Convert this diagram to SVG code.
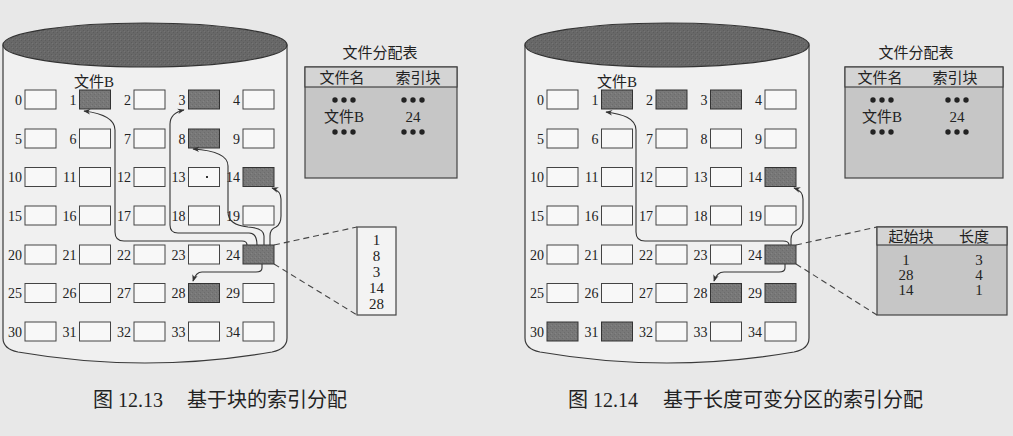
<svg xmlns="http://www.w3.org/2000/svg" width="1013" height="436" viewBox="0 0 1013 436">
<defs>
<style>
.bg{fill:#e8e8e8}
.cyl{fill:#f0f0f0;stroke:#3a3a3a;stroke-width:1.2}
.lid{fill:url(#grainDark);stroke:#333;stroke-width:1.2}
.blk{fill:#f8f8f8;stroke:#444;stroke-width:1}
.on{fill:url(#grain);stroke:#333;stroke-width:1}
.num{font-family:"Liberation Serif","Noto Sans CJK SC",serif;font-size:14px;fill:#222;text-anchor:end}
.lbl{font-family:"Liberation Serif","Noto Sans CJK SC",serif;font-size:15px;fill:#222}
.mid{text-anchor:middle}
.tbl{fill:#c6c6c6;stroke:#444;stroke-width:1.2}
.hdr{fill:#d4d4d4;stroke:#444;stroke-width:1.2}
.idx{fill:#f3f3f3;stroke:#444;stroke-width:1.2}
.link{fill:none;stroke:#333;stroke-width:1.1}
.dash{fill:none;stroke:#444;stroke-width:1.1;stroke-dasharray:6 4}
.cap{font-family:"Liberation Serif","Noto Sans CJK SC",serif;font-size:20px;fill:#222}
.dot{fill:#222}
</style>
<pattern id="grain" width="4" height="4" patternUnits="userSpaceOnUse">
<rect width="4" height="4" fill="#787878"/>
<rect x="0" y="0" width="1" height="1" fill="#6c6c6c"/>
<rect x="2" y="2" width="1" height="1" fill="#6c6c6c"/>
<rect x="3" y="1" width="1" height="1" fill="#848484"/>
</pattern>
<pattern id="grainDark" width="4" height="4" patternUnits="userSpaceOnUse">
<rect width="4" height="4" fill="#686868"/>
<rect x="1" y="0" width="1" height="1" fill="#5c5c5c"/>
<rect x="3" y="2" width="1" height="1" fill="#5c5c5c"/>
<rect x="0" y="3" width="1" height="1" fill="#747474"/>
</pattern>
<marker id="ah" viewBox="0 0 10 10" refX="9" refY="5" markerWidth="7" markerHeight="7" orient="auto" markerUnits="userSpaceOnUse">
<path d="M0,1 L10,5 L0,9 L3,5 Z" fill="#333"/>
</marker>
</defs>

<rect class="bg" x="0" y="0" width="1013" height="436"/>

<!-- left disk: block-based index allocation -->
<g id="disk-left">
<path class="cyl" d="M3,45 L3,338 Q3,349 18,352 Q145,374 272,352 Q287,349 287,338 L287,45 Z"/>
<ellipse class="lid" cx="145" cy="45" rx="142" ry="22"/>
</g>

<g id="L-blocks">
<g id="L0"><rect class="blk" x="25" y="90" width="31" height="19"/><text class="num" x="22" y="104.5">0</text></g>
<g id="L1"><rect class="on" x="79.5" y="90" width="31" height="19"/><text class="num" x="76.5" y="104.5">1</text></g>
<g id="L2"><rect class="blk" x="134" y="90" width="31" height="19"/><text class="num" x="131" y="104.5">2</text></g>
<g id="L3"><rect class="on" x="188.5" y="90" width="31" height="19"/><text class="num" x="185.5" y="104.5">3</text></g>
<g id="L4"><rect class="blk" x="243" y="90" width="31" height="19"/><text class="num" x="240" y="104.5">4</text></g>

<g id="L5"><rect class="blk" x="25" y="129" width="31" height="19"/><text class="num" x="22" y="143.5">5</text></g>
<g id="L6"><rect class="blk" x="79.5" y="129" width="31" height="19"/><text class="num" x="76.5" y="143.5">6</text></g>
<g id="L7"><rect class="blk" x="134" y="129" width="31" height="19"/><text class="num" x="131" y="143.5">7</text></g>
<g id="L8"><rect class="on" x="188.5" y="129" width="31" height="19"/><text class="num" x="185.5" y="143.5">8</text></g>
<g id="L9"><rect class="blk" x="243" y="129" width="31" height="19"/><text class="num" x="240" y="143.5">9</text></g>

<g id="L10"><rect class="blk" x="25" y="167.5" width="31" height="19"/><text class="num" x="22" y="182">10</text></g>
<g id="L11"><rect class="blk" x="79.5" y="167.5" width="31" height="19"/><text class="num" x="76.5" y="182">11</text></g>
<g id="L12"><rect class="blk" x="134" y="167.5" width="31" height="19"/><text class="num" x="131" y="182">12</text></g>
<g id="L13"><rect class="blk" x="188.5" y="167.5" width="31" height="19"/><rect x="206" y="176" width="2" height="2" fill="#333"/><text class="num" x="185.5" y="182">13</text></g>
<g id="L14"><rect class="on" x="243" y="167.5" width="31" height="19"/><text class="num" x="240" y="182">14</text></g>

<g id="L15"><rect class="blk" x="25" y="206" width="31" height="19"/><text class="num" x="22" y="220.5">15</text></g>
<g id="L16"><rect class="blk" x="79.5" y="206" width="31" height="19"/><text class="num" x="76.5" y="220.5">16</text></g>
<g id="L17"><rect class="blk" x="134" y="206" width="31" height="19"/><text class="num" x="131" y="220.5">17</text></g>
<g id="L18"><rect class="blk" x="188.5" y="206" width="31" height="19"/><text class="num" x="185.5" y="220.5">18</text></g>
<g id="L19"><rect class="blk" x="243" y="206" width="31" height="19"/><text class="num" x="240" y="220.5">19</text></g>

<g id="L20"><rect class="blk" x="25" y="245" width="31" height="19"/><text class="num" x="22" y="259.5">20</text></g>
<g id="L21"><rect class="blk" x="79.5" y="245" width="31" height="19"/><text class="num" x="76.5" y="259.5">21</text></g>
<g id="L22"><rect class="blk" x="134" y="245" width="31" height="19"/><text class="num" x="131" y="259.5">22</text></g>
<g id="L23"><rect class="blk" x="188.5" y="245" width="31" height="19"/><text class="num" x="185.5" y="259.5">23</text></g>
<g id="L24"><rect class="on" x="243" y="245" width="31" height="19"/><text class="num" x="240" y="259.5">24</text></g>

<g id="L25"><rect class="blk" x="25" y="283.5" width="31" height="19"/><text class="num" x="22" y="298">25</text></g>
<g id="L26"><rect class="blk" x="79.5" y="283.5" width="31" height="19"/><text class="num" x="76.5" y="298">26</text></g>
<g id="L27"><rect class="blk" x="134" y="283.5" width="31" height="19"/><text class="num" x="131" y="298">27</text></g>
<g id="L28"><rect class="on" x="188.5" y="283.5" width="31" height="19"/><text class="num" x="185.5" y="298">28</text></g>
<g id="L29"><rect class="blk" x="243" y="283.5" width="31" height="19"/><text class="num" x="240" y="298">29</text></g>

<g id="L30"><rect class="blk" x="25" y="322" width="31" height="19"/><text class="num" x="22" y="336.5">30</text></g>
<g id="L31"><rect class="blk" x="79.5" y="322" width="31" height="19"/><text class="num" x="76.5" y="336.5">31</text></g>
<g id="L32"><rect class="blk" x="134" y="322" width="31" height="19"/><text class="num" x="131" y="336.5">32</text></g>
<g id="L33"><rect class="blk" x="188.5" y="322" width="31" height="19"/><text class="num" x="185.5" y="336.5">33</text></g>
<g id="L34"><rect class="blk" x="243" y="322" width="31" height="19"/><text class="num" x="240" y="336.5">34</text></g>
</g>
<text class="lbl" x="74" y="87">文件B</text>

<!-- left file allocation table -->
<g id="L-fat">
<text class="lbl mid" x="380" y="58">文件分配表</text>
<rect class="tbl" x="305" y="67" width="152" height="111"/>
<rect class="hdr" x="305" y="67" width="152" height="20"/>
<text class="lbl mid" x="342" y="82.5">文件名</text>
<text class="lbl mid" x="418" y="82.5">索引块</text>
<g class="dot"><circle cx="335" cy="100" r="2.7"/><circle cx="344" cy="100" r="2.7"/><circle cx="353" cy="100" r="2.7"/>
<circle cx="404" cy="100" r="2.7"/><circle cx="413" cy="100" r="2.7"/><circle cx="422" cy="100" r="2.7"/>
<circle cx="335" cy="132" r="2.7"/><circle cx="344" cy="132" r="2.7"/><circle cx="353" cy="132" r="2.7"/>
<circle cx="404" cy="132" r="2.7"/><circle cx="413" cy="132" r="2.7"/><circle cx="422" cy="132" r="2.7"/></g>
<text class="lbl mid" x="344" y="122">文件B</text>
<text class="lbl mid" x="413" y="122">24</text>
</g>

<!-- left index block contents -->
<g id="L-index">
<rect class="idx" x="357" y="227" width="39" height="88"/>
<text class="lbl mid" x="376.5" y="245">1</text>
<text class="lbl mid" x="376.5" y="261">8</text>
<text class="lbl mid" x="376.5" y="277">3</text>
<text class="lbl mid" x="376.5" y="293">14</text>
<text class="lbl mid" x="376.5" y="309">28</text>
</g>

<!-- right disk: variable-length partition index allocation -->
<g id="disk-right">
<path class="cyl" d="M525,45 L525,338 Q525,349 540,352 Q667,374 794,352 Q809,349 809,338 L809,45 Z"/>
<ellipse class="lid" cx="667" cy="45" rx="142" ry="22"/>
</g>

<g id="R-blocks">
<g id="R0"><rect class="blk" x="547" y="90" width="31" height="19"/><text class="num" x="544" y="104.5">0</text></g>
<g id="R1"><rect class="on" x="601.5" y="90" width="31" height="19"/><text class="num" x="598.5" y="104.5">1</text></g>
<g id="R2"><rect class="on" x="656" y="90" width="31" height="19"/><text class="num" x="653" y="104.5">2</text></g>
<g id="R3"><rect class="on" x="710.5" y="90" width="31" height="19"/><text class="num" x="707.5" y="104.5">3</text></g>
<g id="R4"><rect class="blk" x="765" y="90" width="31" height="19"/><text class="num" x="762" y="104.5">4</text></g>

<g id="R5"><rect class="blk" x="547" y="129" width="31" height="19"/><text class="num" x="544" y="143.5">5</text></g>
<g id="R6"><rect class="blk" x="601.5" y="129" width="31" height="19"/><text class="num" x="598.5" y="143.5">6</text></g>
<g id="R7"><rect class="blk" x="656" y="129" width="31" height="19"/><text class="num" x="653" y="143.5">7</text></g>
<g id="R8"><rect class="blk" x="710.5" y="129" width="31" height="19"/><text class="num" x="707.5" y="143.5">8</text></g>
<g id="R9"><rect class="blk" x="765" y="129" width="31" height="19"/><text class="num" x="762" y="143.5">9</text></g>

<g id="R10"><rect class="blk" x="547" y="167.5" width="31" height="19"/><text class="num" x="544" y="182">10</text></g>
<g id="R11"><rect class="blk" x="601.5" y="167.5" width="31" height="19"/><text class="num" x="598.5" y="182">11</text></g>
<g id="R12"><rect class="blk" x="656" y="167.5" width="31" height="19"/><text class="num" x="653" y="182">12</text></g>
<g id="R13"><rect class="blk" x="710.5" y="167.5" width="31" height="19"/><text class="num" x="707.5" y="182">13</text></g>
<g id="R14"><rect class="on" x="765" y="167.5" width="31" height="19"/><text class="num" x="762" y="182">14</text></g>

<g id="R15"><rect class="blk" x="547" y="206" width="31" height="19"/><text class="num" x="544" y="220.5">15</text></g>
<g id="R16"><rect class="blk" x="601.5" y="206" width="31" height="19"/><text class="num" x="598.5" y="220.5">16</text></g>
<g id="R17"><rect class="blk" x="656" y="206" width="31" height="19"/><text class="num" x="653" y="220.5">17</text></g>
<g id="R18"><rect class="blk" x="710.5" y="206" width="31" height="19"/><text class="num" x="707.5" y="220.5">18</text></g>
<g id="R19"><rect class="blk" x="765" y="206" width="31" height="19"/><text class="num" x="762" y="220.5">19</text></g>

<g id="R20"><rect class="blk" x="547" y="245" width="31" height="19"/><text class="num" x="544" y="259.5">20</text></g>
<g id="R21"><rect class="blk" x="601.5" y="245" width="31" height="19"/><text class="num" x="598.5" y="259.5">21</text></g>
<g id="R22"><rect class="blk" x="656" y="245" width="31" height="19"/><text class="num" x="653" y="259.5">22</text></g>
<g id="R23"><rect class="blk" x="710.5" y="245" width="31" height="19"/><text class="num" x="707.5" y="259.5">23</text></g>
<g id="R24"><rect class="on" x="765" y="245" width="31" height="19"/><text class="num" x="762" y="259.5">24</text></g>

<g id="R25"><rect class="blk" x="547" y="283.5" width="31" height="19"/><text class="num" x="544" y="298">25</text></g>
<g id="R26"><rect class="blk" x="601.5" y="283.5" width="31" height="19"/><text class="num" x="598.5" y="298">26</text></g>
<g id="R27"><rect class="blk" x="656" y="283.5" width="31" height="19"/><text class="num" x="653" y="298">27</text></g>
<g id="R28"><rect class="on" x="710.5" y="283.5" width="31" height="19"/><text class="num" x="707.5" y="298">28</text></g>
<g id="R29"><rect class="on" x="765" y="283.5" width="31" height="19"/><text class="num" x="762" y="298">29</text></g>

<g id="R30"><rect class="on" x="547" y="322" width="31" height="19"/><text class="num" x="544" y="336.5">30</text></g>
<g id="R31"><rect class="on" x="601.5" y="322" width="31" height="19"/><text class="num" x="598.5" y="336.5">31</text></g>
<g id="R32"><rect class="blk" x="656" y="322" width="31" height="19"/><text class="num" x="653" y="336.5">32</text></g>
<g id="R33"><rect class="blk" x="710.5" y="322" width="31" height="19"/><text class="num" x="707.5" y="336.5">33</text></g>
<g id="R34"><rect class="blk" x="765" y="322" width="31" height="19"/><text class="num" x="762" y="336.5">34</text></g>
</g>
<text class="lbl" x="597" y="87">文件B</text>

<!-- right file allocation table -->
<g id="R-fat">
<text class="lbl mid" x="916" y="58">文件分配表</text>
<rect class="tbl" x="845" y="67" width="158" height="111"/>
<rect class="hdr" x="845" y="67" width="158" height="20"/>
<text class="lbl mid" x="880" y="82.5">文件名</text>
<text class="lbl mid" x="955" y="82.5">索引块</text>
<g class="dot"><circle cx="873" cy="100" r="2.7"/><circle cx="882" cy="100" r="2.7"/><circle cx="891" cy="100" r="2.7"/>
<circle cx="948" cy="100" r="2.7"/><circle cx="957" cy="100" r="2.7"/><circle cx="966" cy="100" r="2.7"/>
<circle cx="873" cy="132" r="2.7"/><circle cx="882" cy="132" r="2.7"/><circle cx="891" cy="132" r="2.7"/>
<circle cx="948" cy="132" r="2.7"/><circle cx="957" cy="132" r="2.7"/><circle cx="966" cy="132" r="2.7"/></g>
<text class="lbl mid" x="882" y="122">文件B</text>
<text class="lbl mid" x="957" y="122">24</text>
</g>

<!-- right extent table -->
<g id="R-extents">
<rect class="tbl" x="877" y="227" width="130" height="88"/>
<rect class="hdr" x="877" y="227" width="130" height="18"/>
<text class="lbl mid" x="911" y="241.5">起始块</text>
<text class="lbl mid" x="974" y="241.5">长度</text>
<text class="lbl mid" x="906" y="265">1</text><text class="lbl mid" x="979" y="265">3</text>
<text class="lbl mid" x="906" y="280">28</text><text class="lbl mid" x="979" y="280">4</text>
<text class="lbl mid" x="906" y="295">14</text><text class="lbl mid" x="979" y="295">1</text>
</g>

<!-- connectors -->
<g id="connectors">
<path class="link" marker-end="url(#ah)" d="M247,245 Q247,241 242,241 L124,241 Q115,241 115,232 L115,130 C115,118 100,113 84,111"/>
<path class="link" marker-end="url(#ah)" d="M257,245 Q257,233 249,233 L178,233 Q170,233 170,225 L170,124 C170,116 175,112 184,110"/>
<path class="link" marker-end="url(#ah)" d="M264,245 L264,236 Q264,228 248,227 Q228,225 228,212 L228,166 C228,154 210,150 193,149"/>
<path class="link" marker-end="url(#ah)" d="M270,245 L270,236 Q270,229 276,227 Q281,224 281,216 L281,199 C281,193 278,190 272,188"/>
<path class="link" marker-end="url(#ah)" d="M262,264 L262,268 Q262,272 256,272 L202,272 Q196,272 193,281"/>
<path class="dash" d="M274,245 L357,227"/>
<path class="dash" d="M274,264 L357,315"/>

<path class="link" marker-end="url(#ah)" d="M789,245 Q789,241 783,241 L645,241 Q636,241 636,232 L636,130 C636,118 622,114 606,112"/>
<path class="link" marker-end="url(#ah)" d="M791,245 L791,239 Q791,233 797,230 Q803,227 803,219 L803,199 C803,193 800,190 794,188"/>
<path class="link" marker-end="url(#ah)" d="M785,264 L785,268 Q785,272 779,272 L724,272 Q717,272 714,281"/>
<path class="dash" d="M796,245 L877,227"/>
<path class="dash" d="M796,264 L877,315"/>
</g>

<!-- captions -->
<text class="cap" x="93" y="407">图 12.13<tspan x="187">基于块的索引分配</tspan></text>
<text class="cap" x="568" y="407">图 12.14<tspan x="663">基于长度可变分区的索引分配</tspan></text>
</svg>
